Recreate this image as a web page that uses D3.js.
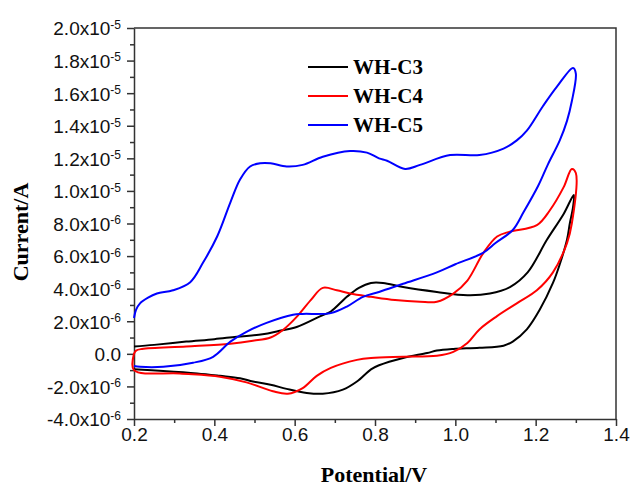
<!DOCTYPE html>
<html lang="en">
<head>
<meta charset="utf-8" />
<title>CV curves WH-C3 / WH-C4 / WH-C5</title>
<style>
html, body {
	margin: 0;
	padding: 0;
	background: #fff;
}
svg {
	display: block;
}
.tick text {
	font-family: "Liberation Sans", Arial, sans-serif;
	fill: #111;
}
</style>
</head>
<body>
<svg width="630" height="486"></svg>

<script src="https://cdn.jsdelivr.net/npm/d3@7/dist/d3.min.js"></script>
<script>
// potential (V), current (units of 1e-6 A), traced round each loop
var wh3 = [
	[0.2,0.45],[0.25,0.55],[0.33,0.75],[0.40,0.9],[0.456,1.05],[0.52,1.2],[0.56,1.4],[0.605,1.65],
	[0.663,2.3],[0.69,2.6],[0.73,3.5],[0.76,4.05],[0.79,4.35],[0.82,4.35],[0.87,4.1],[0.954,3.8],
	[1.03,3.6],[1.086,3.7],[1.136,4.1],[1.18,5.0],[1.228,7.0],[1.27,8.6],[1.295,9.75],
	[1.293,9.0],[1.285,8.0],[1.278,7.0],[1.26,5.5],[1.243,4.35],[1.21,2.7],[1.178,1.5],[1.143,0.75],
	[1.12,0.5],[1.06,0.37],[0.995,0.3],[0.954,0.2],[0.93,0.05],[0.87,-0.25],[0.81,-0.7],[0.79,-0.95],
	[0.755,-1.7],[0.72,-2.2],[0.67,-2.45],[0.63,-2.4],[0.58,-2.15],[0.54,-1.9],[0.496,-1.7],
	[0.464,-1.5],[0.414,-1.35],[0.357,-1.2],[0.273,-1.05],[0.2,-0.95]
];
var wh4 = [
	[0.2,0.0],[0.205,0.2],[0.22,0.3],[0.33,0.45],[0.44,0.62],[0.496,0.8],[0.54,1.0],[0.57,1.45],
	[0.605,2.27],[0.64,3.3],[0.67,4.05],[0.705,3.9],[0.738,3.7],[0.79,3.5],[0.85,3.3],[0.912,3.2],
	[0.954,3.2],[0.995,3.7],[1.03,4.5],[1.07,6.2],[1.104,7.2],[1.136,7.5],[1.203,7.9],[1.235,8.8],
	[1.27,10.25],[1.29,11.35],[1.3,11.1],
	[1.29,8.0],[1.278,6.8],[1.243,5.0],[1.203,3.9],[1.153,3.1],[1.103,2.3],[1.06,1.5],[1.03,0.67],
	[0.995,0.12],[0.954,-0.12],[0.87,-0.18],[0.79,-0.25],[0.755,-0.37],[0.69,-0.86],[0.655,-1.35],
	[0.62,-2.1],[0.583,-2.45],[0.546,-2.3],[0.48,-1.75],[0.414,-1.4],[0.314,-1.2],[0.2,-1.0],[0.2,0.0]
];
var wh5 = [
	[0.2,2.2],[0.205,2.7],[0.215,3.1],[0.235,3.45],[0.257,3.7],[0.297,3.9],[0.34,4.4],[0.372,5.6],
	[0.407,7.2],[0.44,9.3],[0.464,10.7],[0.489,11.5],[0.514,11.7],[0.54,11.7],[0.58,11.5],[0.62,11.6],
	[0.67,12.1],[0.738,12.45],[0.78,12.35],[0.81,12.0],[0.83,11.85],[0.875,11.35],[0.912,11.6],
	[0.987,12.2],[1.06,12.2],[1.12,12.6],[1.153,13.1],[1.178,13.7],[1.218,15.2],[1.253,16.4],
	[1.293,17.55],[1.3,17.2],
	[1.29,15.5],[1.278,14.3],[1.26,13.1],[1.23,11.6],[1.206,10.3],[1.17,8.7],[1.143,7.6],[1.1,6.8],
	[1.069,6.2],[1.0,5.5],[0.954,5.0],[0.87,4.3],[0.81,3.8],[0.77,3.5],[0.73,2.9],[0.69,2.5],
	[0.62,2.45],[0.596,2.4],[0.53,1.9],[0.48,1.35],[0.44,0.75],[0.397,-0.18],[0.347,-0.55],
	[0.273,-0.8],[0.215,-0.8],[0.2,-0.75]
];

var seriesNames = ["WH-C3", "WH-C4", "WH-C5"];
var seriesColors = ["#000000", "#ff0000", "#0000ff"];
var seriesData = [wh3, wh4, wh5];

var xTicks = [0.2, 0.4, 0.6, 0.8, 1.0, 1.2, 1.4];
var xMinor = [0.3, 0.5, 0.7, 0.9, 1.1, 1.3];
var yTicks = [-4, -2, 0, 2, 4, 6, 8, 10, 12, 14, 16, 18, 20];
var yMinor = [-3, -1, 1, 3, 5, 7, 9, 11, 13, 15, 17, 19];

var svg = d3.select("svg");
var plotLeft = 134, plotRight = 616, plotTop = 28, plotBottom = 419;

var x = d3.scaleLinear().domain([0.2, 1.4]).range([plotLeft, plotRight]);
var y = d3.scaleLinear().domain([-4, 20]).range([plotBottom, plotTop]);

// frame (top and right, no ticks)
svg.append("path")
	.attr("d", "M" + plotLeft + "," + plotTop + "H" + plotRight + "V" + plotBottom)
	.attr("fill", "none")
	.attr("stroke", "#333")
	.attr("stroke-width", 1.5);

// minor ticks
svg.append("g")
	.attr("transform", "translate(0," + plotBottom + ")")
	.call(d3.axisBottom(x).tickValues(xMinor).tickSize(4).tickFormat(""))
	.call(function(g){ g.select(".domain").remove(); });
svg.append("g")
	.attr("transform", "translate(" + plotLeft + ",0)")
	.call(d3.axisLeft(y).tickValues(yMinor).tickSize(4).tickFormat(""))
	.call(function(g){ g.select(".domain").remove(); });

// x axis
var gx = svg.append("g")
	.attr("transform", "translate(0," + plotBottom + ")")
	.call(d3.axisBottom(x).tickValues(xTicks).tickSize(7).tickSizeOuter(0).tickFormat(d3.format(".1f")));
gx.selectAll("text").attr("font-size", 19).attr("y", 9);

// y axis, labels like 2.0x10^-6
var gy = svg.append("g")
	.attr("transform", "translate(" + plotLeft + ",0)")
	.call(d3.axisLeft(y).tickValues(yTicks).tickSize(7).tickSizeOuter(0).tickFormat(""));

gy.selectAll(".tick text").each(function(d) {
	var t = d3.select(this)
		.attr("x", -13)
		.attr("dy", "0.36em")
		.attr("font-size", 19)
		.attr("text-anchor", "end");
	if (d === 0) {
		t.text("0.0");
		return;
	}
	var exp = Math.abs(d) >= 10 ? -5 : -6;
	var mant = d / Math.pow(10, exp + 6);
	t.append("tspan").text(mant.toFixed(1) + "x10");
	t.append("tspan").attr("dy", "-0.55em").attr("font-size", 12).text(exp);
});

svg.selectAll(".domain, .tick line").attr("stroke", "#333").attr("stroke-width", 1.5);

// curves
var line = d3.line()
	.x(function(d){ return x(d[0]); })
	.y(function(d){ return y(d[1]); })
	.curve(d3.curveCatmullRom.alpha(0.5));

svg.selectAll("path.cv")
	.data(seriesData)
	.enter()
	.append("path")
	.attr("class", "cv")
	.attr("d", line)
	.attr("fill", "none")
	.attr("stroke", function(d, i){ return seriesColors[i]; })
	.attr("stroke-width", 2)
	.attr("stroke-linejoin", "round");

// legend
var legend = svg.append("g");
seriesNames.forEach(function(name, i) {
	var ly = 67 + i * 29;
	legend.append("line")
		.attr("x1", 308).attr("x2", 348)
		.attr("y1", ly).attr("y2", ly)
		.attr("stroke", seriesColors[i])
		.attr("stroke-width", 2);
	legend.append("text")
		.attr("x", 353).attr("y", ly + 7)
		.attr("font-family", "'Liberation Serif', 'Times New Roman', serif")
		.attr("font-weight", "bold")
		.attr("font-size", 21)
		.text(name);
});

// axis titles
svg.append("text")
	.attr("x", 374).attr("y", 482)
	.attr("text-anchor", "middle")
	.attr("font-family", "'Liberation Serif', 'Times New Roman', serif")
	.attr("font-weight", "bold")
	.attr("font-size", 22)
	.text("Potential/V");

svg.append("text")
	.attr("transform", "translate(28,232) rotate(-90)")
	.attr("text-anchor", "middle")
	.attr("font-family", "'Liberation Serif', 'Times New Roman', serif")
	.attr("font-weight", "bold")
	.attr("font-size", 22)
	.text("Current/A");
</script>
</body>
</html>
